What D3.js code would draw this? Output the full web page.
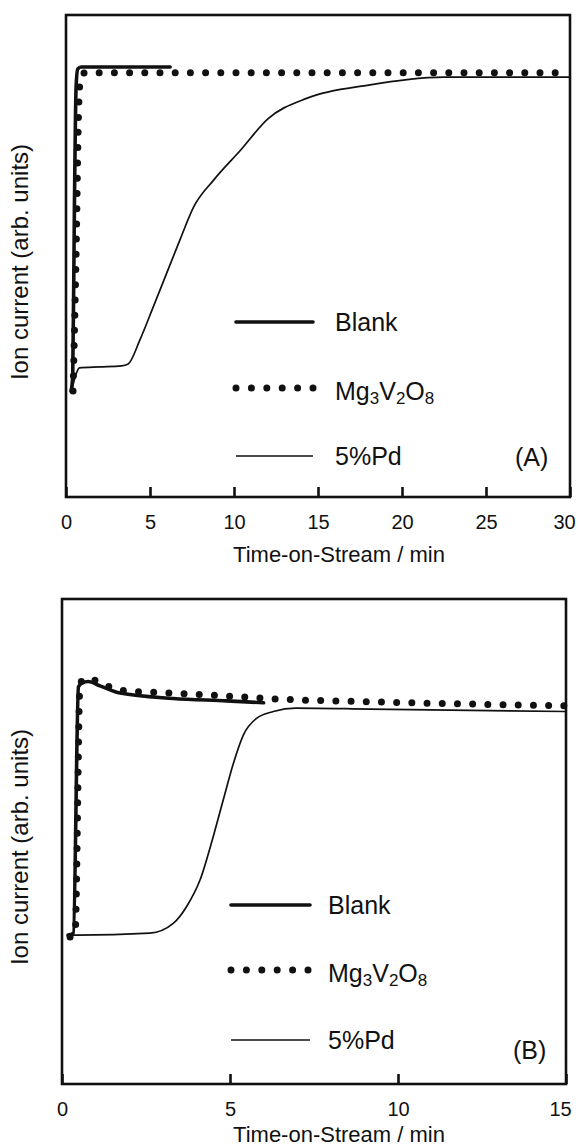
<!DOCTYPE html>
<html>
<head>
<meta charset="utf-8">
<script src="https://d3js.org/d3.v7.min.js"></script>
<style>
  body { margin: 0; background: #fff; }
  svg { display: block; }
  text { font-family: "Liberation Sans", Arial, sans-serif; fill: #111; }
</style>
</head>
<body>
<script>
'use strict';

// ---- data: [time (min), ion current (arb.)] ----
// panel (A)
const blankA = [[0.3, 22], [0.4, 25], [0.5, 60], [0.6, 85], [0.7, 88.8], [0.9, 89.2], [6.2, 89.2]];
const mgA = [[0.42, 22], [0.6, 50], [0.75, 80], [0.85, 86.5], [1.1, 88], [10, 88], [20, 88], [30, 88]];
const pdA = [[0.3, 21.6], [0.6, 25.5], [0.8, 26.8], [2, 27.0], [3.3, 27.2], [3.7, 27.6], [4.4, 32.6],
  [5.2, 39.5], [6.0, 46.5], [6.8, 53.5], [7.6, 60.2], [8.8, 65.8], [10.4, 72.0], [12, 78.4],
  [14.4, 82.8], [18.1, 85.5], [20.3, 86.6], [22.5, 87.1], [30, 87.1]];
// panel (B)
const blankB = [[0.18, 30.7], [0.34, 31.1], [0.49, 81.9], [0.6, 82.7], [0.78, 83.0], [1.13, 82.1],
  [1.73, 80.6], [3.31, 79.5], [4.9, 79.0], [6.0, 78.6]];
const mgB = [[0.24, 30.3], [0.39, 31.1], [0.54, 82.7], [0.77, 83.7], [1.13, 82.8], [1.73, 81.2],
  [3.3, 80.6], [4.9, 80.0], [6.34, 79.4], [9.17, 78.8], [15, 78.0]];
const pdB = [[0.24, 30.7], [0.44, 30.7], [2.62, 31.1], [3.31, 33.1], [3.71, 36.6], [4.11, 42.1],
  [4.5, 51.0], [4.8, 58.6], [5.1, 66.1], [5.4, 72.0], [5.79, 75.4], [6.29, 76.8], [6.96, 77.5],
  [9.17, 77.3], [15, 76.8]];

const ticksA = [0, 5, 10, 15, 20, 25, 30];
const ticksB = [0, 5, 10, 15];
const legendNames = ["Blank", "Mg3V2O8", "5%Pd"];

const W = 579, H = 1148;

const svg = d3.select('body')
  .append('svg')
  .attr('width', W)
  .attr('height', H);

const panels = [
  { series: [mgA, pdA, blankA], ticks: ticksA, xDom: [0, 30],
    box: { x0: 66, x1: 570, y0: 15, y1: 497 },
    legend: { x0: 236, x1: 313, tx: 335, rows: [322, 388, 456] },
    tag: "(A)", tagX: 515, tagY: 457, titleY: 562, labelY: 262 },
  { series: [mgB, pdB, blankB], ticks: ticksB, xDom: [0, 15],
    box: { x0: 62, x1: 566, y0: 599, y1: 1084 },
    legend: { x0: 231, x1: 310, tx: 328, rows: [905, 970, 1040] },
    tag: "(B)", tagX: 513, tagY: 1050, titleY: 1142, labelY: 847 }
];

// line styles: Mg3V2O8 dotted, 5%Pd thin, Blank thick
const styles = [
  { w: 7, dash: "0 15.2", cap: "round" },
  { w: 1.7, dash: null, cap: "butt" },
  { w: 3.6, dash: null, cap: "round" }
];

panels.forEach(drawPanel);

function drawPanel(p) {
  const b = p.box;
  const x = d3.scaleLinear().domain(p.xDom).range([b.x0, b.x1]);
  const y = d3.scaleLinear().domain([0, 100]).range([b.y1, b.y0]);

  const line = d3.line()
    .x(d => x(d[0]))
    .y(d => y(d[1]))
    .curve(d3.curveMonotoneX);

  // frame
  svg.append('rect')
    .attr('x', b.x0).attr('y', b.y0)
    .attr('width', b.x1 - b.x0).attr('height', b.y1 - b.y0)
    .attr('fill', 'none').attr('stroke', '#111').attr('stroke-width', 2.6);

  // bottom axis, ticks pointing inward
  const xAxis = d3.axisBottom(x)
    .tickValues(p.ticks)
    .tickFormat(d3.format('d'))
    .tickSize(-10)
    .tickPadding(18);
  const g = svg.append('g')
    .attr('transform', 'translate(0,' + b.y1 + ')')
    .call(xAxis);
  g.select('.domain').remove();
  g.selectAll('.tick line').attr('stroke', '#111').attr('stroke-width', 2.6);
  g.selectAll('.tick text')
    .style('font-family', '"Liberation Sans", Arial, sans-serif')
    .style('font-size', '20px')
    .attr('fill', '#111');
  // keep the last label inside the page
  g.selectAll('.tick text').filter((d, i, n) => i === n.length - 1).attr('dx', -6);

  // curves
  p.series.forEach((s, i) => {
    const st = styles[i];
    svg.append('path')
      .datum(s)
      .attr('d', line)
      .attr('fill', 'none')
      .attr('stroke', '#111')
      .attr('stroke-width', st.w)
      .attr('stroke-linecap', st.cap)
      .attr('stroke-linejoin', 'round')
      .attr('stroke-dasharray', st.dash);
  });

  // axis labels
  svg.append('text')
    .attr('x', 339)
    .attr('y', p.titleY)
    .attr('text-anchor', 'middle')
    .style('font-size', '22px')
    .text('Time-on-Stream / min');

  svg.append('text')
    .attr('transform', 'translate(28,' + p.labelY + ')rotate(-90)')
    .attr('text-anchor', 'middle')
    .style('font-size', '24px')
    .text('Ion current (arb. units)');

  // legend
  const L = p.legend;
  const order = [2, 0, 1]; // Blank, Mg3V2O8, 5%Pd
  order.forEach((si, row) => {
    const st = styles[si];
    const yy = L.rows[row];
    svg.append('path')
      .attr('d', d3.line()([[L.x0, yy], [L.x1, yy]]))
      .attr('fill', 'none')
      .attr('stroke', '#111')
      .attr('stroke-width', si === 0 ? 7 : st.w)
      .attr('stroke-linecap', st.cap)
      .attr('stroke-dasharray', si === 0 ? "0 15.4" : null);
  });

  svg.append('text').attr('x', L.tx).attr('y', L.rows[0] + 9).style('font-size', '25px')
    .text(legendNames[0]);

  const t2 = svg.append('text').attr('x', L.tx).attr('y', L.rows[1] + 12).style('font-size', '25px');
  t2.append('tspan').text('Mg');
  t2.append('tspan').attr('dy', 4).style('font-size', '17px').text('3');
  t2.append('tspan').attr('dy', -4).text('V');
  t2.append('tspan').attr('dy', 4).style('font-size', '17px').text('2');
  t2.append('tspan').attr('dy', -4).text('O');
  t2.append('tspan').attr('dy', 4).style('font-size', '17px').text('8');

  svg.append('text').attr('x', L.tx).attr('y', L.rows[2] + 9).style('font-size', '25px')
    .text(legendNames[2]);

  svg.append('text').attr('x', p.tagX).attr('y', p.tagY + 9).style('font-size', '25px')
    .text(p.tag);
}
</script>
</body>
</html>
